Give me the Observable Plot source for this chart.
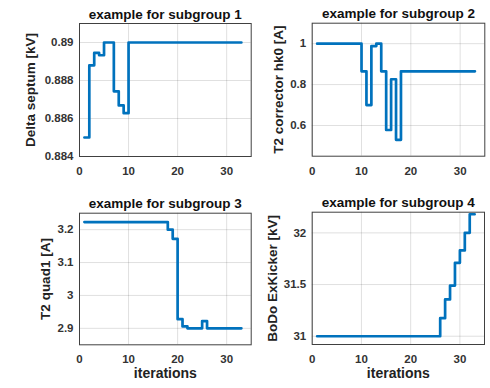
<!DOCTYPE html>
<html><head><meta charset="utf-8">
<script src="https://cdn.jsdelivr.net/npm/d3@7"></script>
<script src="https://cdn.jsdelivr.net/npm/@observablehq/plot@0.6"></script>
<style>
body{margin:0;background:#fff;}
#fig{position:relative;width:490px;height:388px;font-family:"Liberation Sans",Arial,sans-serif;}
#fig svg{position:absolute;overflow:visible;background:transparent;}
</style></head><body><div id="fig"></div>
<script>
const iterations = [1,2,3,4,5,6,7,8,9,10,11,12,13,14,15,16,17,18,19,20,21,22,23,24,25,26,27,28,29,30,31,32,33];
const xTicks = [0, 10, 20, 30];

const titles = ["example for subgroup 1","example for subgroup 2","example for subgroup 3","example for subgroup 4"];
const yLabels = ["Delta septum [kV]","T2 corrector hk0 [A]","T2 quad1 [A]","BoDo ExKicker [kV]"];
const xLabel = "iterations";

const deltaSeptum = [0.885,0.8888,0.88945,0.88933,0.89,0.89,0.88743,0.88669,0.88628,
  0.89,0.89,0.89,0.89,0.89,0.89,0.89,0.89,0.89,0.89,0.89,0.89,0.89,0.89,0.89,0.89,0.89,0.89,0.89,0.89,0.89,0.89,0.89,0.89];
const t2Corrector = [1,1,1,1,1,1,1,1,1,0.865,0.70,0.988,1.0,0.865,0.578,0.826,0.53,
  0.865,0.865,0.865,0.865,0.865,0.865,0.865,0.865,0.865,0.865,0.865,0.865,0.865,0.865,0.865,0.865];
const t2Quad1 = [3.223,3.223,3.223,3.223,3.223,3.223,3.223,3.223,3.223,3.223,3.223,3.223,3.223,3.223,3.223,3.223,3.223,
  3.2,3.172,2.928,2.906,2.9,2.9,2.9,2.922,2.9,2.9,2.9,2.9,2.9,2.9,2.9,2.9];
const exKicker = [31,31,31,31,31,31,31,31,31,31,31,31,31,31,31,31,31,31,31,31,31,31,31,31,31,
  31.175,31.356,31.49,31.71,31.83,32.0,32.18,32.18];

const yTicks1 = [0.884, 0.886, 0.888, 0.89];
const yTicks2 = [0.6, 0.8, 1];
const yTicks3 = [2.9, 3, 3.1, 3.2];
const yTicks4 = [31, 31.5, 32];

const yDomains = [[0.884, 0.891], [0.45, 1.1], [2.85, 3.25], [30.92, 32.2]];

const fmt = d => String(+d.toFixed(3));
const fig = document.getElementById("fig");

function panel(o) {
  const data = iterations.map((x, i) => ({x, y: o.values[i]}));
  const marks = [
    Plot.gridX(xTicks, {stroke: "#262626", strokeOpacity: 0.14}),
    Plot.gridY(o.yTicks, {stroke: "#262626", strokeOpacity: 0.14}),
    Plot.axisX(xTicks, {tickSize: 0, tickPadding: 10.5, fontSize: 11.5, fontWeight: "bold", fill: "#333", label: null}),
    Plot.axisY(o.yTicks, {tickSize: 0, tickPadding: 6, fontSize: 11.5, fontWeight: "bold", fill: "#333", tickFormat: fmt, label: null}),
    Plot.line(data, {x: "x", y: "y", curve: "step-after", stroke: "#0072BD", strokeWidth: 2.7}),
    Plot.frame({stroke: "#404040", strokeWidth: 1}),
    Plot.text([o.title], {text: d => d, frameAnchor: "top", textAnchor: "middle", lineAnchor: "bottom", dy: -5, fontSize: 13.5, fontWeight: "bold", fill: "#111"}),
    Plot.text([o.ylabel], {text: d => d, frameAnchor: "left", textAnchor: "middle", rotate: -90, dx: o.ylOff, fontSize: 13.5, fontWeight: "bold", fill: "#222"})
  ];
  if (o.xlabel) marks.push(Plot.text([o.xlabel], {text: d => d, frameAnchor: "bottom", textAnchor: "middle", dy: 33.5, fontSize: 14, fontWeight: "bold", fill: "#222"}));
  const svg = Plot.plot({
    width: o.width, height: o.height,
    marginLeft: o.mL, marginRight: o.mR, marginTop: o.mT, marginBottom: o.mB,
    x: {domain: [0, 35]},
    y: {domain: o.yDomain},
    style: {fontFamily: "'Liberation Sans', Arial, sans-serif", background: "transparent", overflow: "visible"},
    marks
  });
  svg.style.left = o.left + "px";
  svg.style.top = o.top + "px";
  fig.appendChild(svg);
}

panel({left: 0, top: 0, width: 252, height: 190, mL: 79, mR: 1.3, mT: 23, mB: 34,
  values: deltaSeptum, yTicks: yTicks1, yDomain: yDomains[0], title: titles[0], ylabel: yLabels[0], ylOff: -49});
panel({left: 252, top: 0, width: 238, height: 190, mL: 59.7, mR: 5.7, mT: 22.7, mB: 34.3,
  values: t2Corrector, yTicks: yTicks2, yDomain: yDomains[1], title: titles[1], ylabel: yLabels[1], ylOff: -33.7});
panel({left: 0, top: 190, width: 252, height: 198, mL: 79, mR: 1.3, mT: 22.7, mB: 43.7,
  values: t2Quad1, yTicks: yTicks3, yDomain: yDomains[2], title: titles[2], ylabel: yLabels[2], ylOff: -34, xlabel: xLabel});
panel({left: 252, top: 190, width: 238, height: 198, mL: 59.7, mR: 6, mT: 21.7, mB: 44,
  values: exKicker, yTicks: yTicks4, yDomain: yDomains[3], title: titles[3], ylabel: yLabels[3], ylOff: -40, xlabel: xLabel});
</script>
</body></html>
